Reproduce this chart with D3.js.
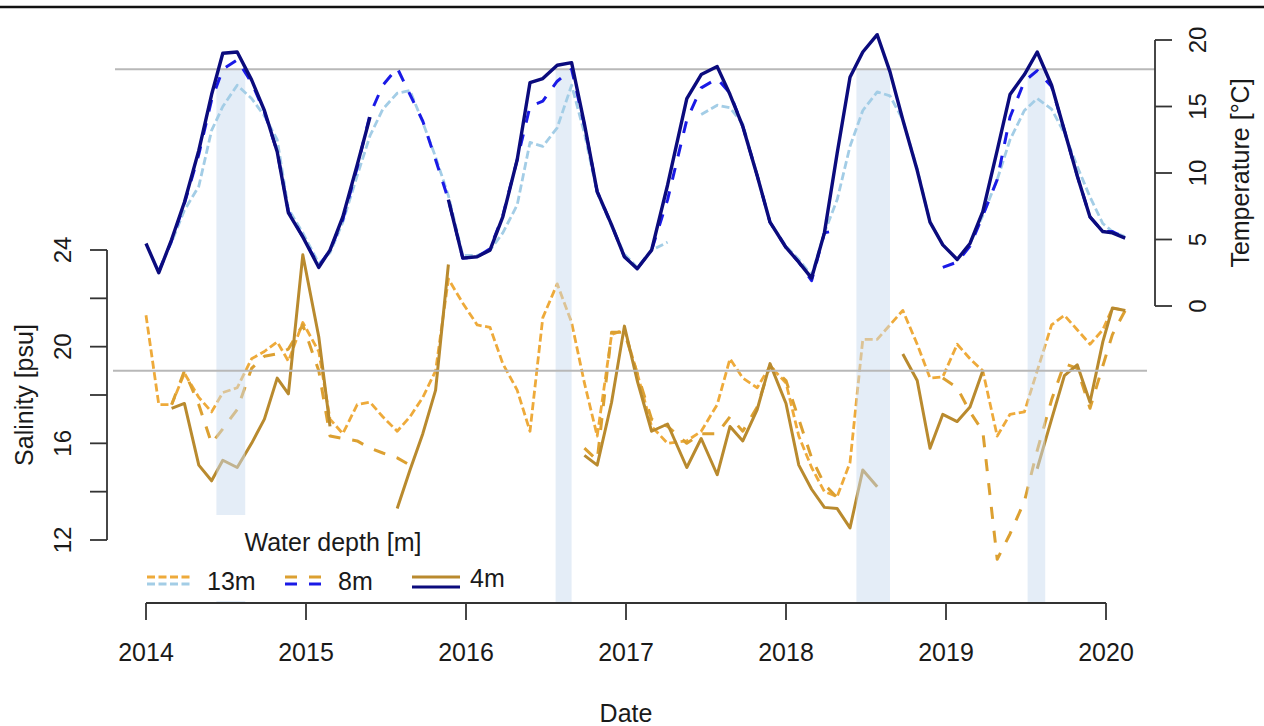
<!DOCTYPE html>
<html>
<head>
<meta charset="utf-8">
<script src="https://cdn.jsdelivr.net/npm/d3@7"></script>
<style>
body { margin: 0; background: #fff; }
svg text { font-family: "Liberation Sans", Arial, Helvetica, sans-serif; fill: #1a1a1a; }
</style>
</head>
<body>
<script>
// sampling dates (decimal years), shared by all series
var dates = [2014.00, 2014.08, 2014.16, 2014.24, 2014.33, 2014.41, 2014.48, 2014.57, 2014.66, 2014.74, 2014.82, 2014.89,
    2014.98, 2015.08, 2015.15, 2015.23, 2015.32, 2015.40, 2015.48, 2015.57, 2015.65, 2015.73, 2015.81, 2015.89,
    2015.98, 2016.07, 2016.15, 2016.23, 2016.32, 2016.40, 2016.48, 2016.57, 2016.66, 2016.74, 2016.82, 2016.91,
    2016.99, 2017.07, 2017.16, 2017.26, 2017.38, 2017.47, 2017.57, 2017.65, 2017.73, 2017.82, 2017.90,
    2018.00, 2018.08, 2018.16, 2018.24, 2018.32, 2018.40, 2018.48, 2018.57, 2018.65, 2018.73, 2018.82, 2018.90, 2018.98,
    2019.07, 2019.15, 2019.23, 2019.32, 2019.40, 2019.49, 2019.57, 2019.66, 2019.74, 2019.82, 2019.90, 2019.98, 2020.04, 2020.12];

// temperature [°C]
var temp13 = [null, 2.7, 4.8, 7.2, 9.0, 13.2, 15.0, 16.6, 15.6, 14.3, 12.5, 7.3,
    5.5, 3.2, 4.0, 6.3, 9.8, 12.8, 14.8, 16.0, 16.2, 13.8, 11.2, 8.3,
    3.8, 3.8, 4.2, 5.5, 7.6, 12.3, 12.0, 13.4, 16.6, 13.0, 8.5, 6.0,
    3.9, 2.9, 4.2, 4.8, null, 14.4, 15.1, 14.9, 13.7, 9.8, 6.3,
    4.5, 3.5, 2.3, 5.5, 8.0, 12.0, 14.7, 16.1, 15.8, 14.0, 10.3, 6.3, 4.6,
    3.5, 4.7, 6.8, 9.5, 12.5, 14.7, 15.6, 14.8, 13.0, 10.5, 8.2, 6.2, 5.6, 5.2];
var temp8 = [null, 2.6, 4.9, 7.7, 11.4, 15.5, 17.8, 18.5, 16.8, 14.6, 11.6, 7.1,
    5.2, 3.0, 4.2, 6.5, 10.4, 14.4, 16.6, 17.9, 15.9, 13.9, 11.0, 8.0,
    3.6, 3.7, 4.3, 6.8, 11.0, 15.0, 15.4, 16.9, 17.8, 13.6, 8.6, 6.1,
    3.7, 2.8, 4.2, 8.0, 14.0, 16.4, 17.1, 16.0, 13.5, 9.8, 6.3,
    4.4, 3.3, 1.9, 5.5, 5.7, null, null, null, null, null, null, null, 2.9,
    3.3, 4.5, 6.8, 9.5, 14.2, 16.9, 17.7, 16.5, 13.2, 9.8, 6.7, 5.6, 5.6, 5.1];
var temp4 = [4.7, 2.5, 5.0, 7.8, 11.7, 15.9, 19.0, 19.1, 17.0, 14.7, 11.6, 7.0,
    5.2, 2.9, 4.2, 6.7, 10.6, 14.2, null, null, null, null, null, 8.0,
    3.6, 3.7, 4.2, 6.7, 11.0, 16.8, 17.1, 18.1, 18.3, 13.7, 8.6, 6.1,
    3.7, 2.8, 4.2, 9.1, 15.6, 17.4, 18.0, 15.9, 13.5, 9.8, 6.3,
    4.4, 3.3, 2.1, 5.5, 11.5, 17.2, 19.1, 20.4, 17.6, 14.0, 10.2, 6.3, 4.6,
    3.5, 4.7, 7.1, 11.7, 15.9, 17.4, 19.1, 16.6, 13.2, 9.8, 6.7, 5.6, 5.5, 5.1];

// salinity [psu]
var sal13 = [21.3, 17.6, 17.6, 18.9, 17.9, 17.3, 18.1, 18.3, 19.5, 19.8, 20.2, 19.4,
    21.0, 19.8, 17.0, 16.4, 17.6, 17.7, 17.1, 16.5, 17.1, 17.9, 19.0, 22.8,
    21.8, 20.9, 20.8, 19.3, 18.2, 16.5, 21.2, 22.6, 21.0, 18.5, 16.3, 20.5,
    20.7, 18.9, 16.7, 16.0, 16.1, 16.5, 17.6, 19.5, 18.7, 18.3, 19.2,
    18.5, 16.3, 15.0, 14.0, 13.8, 15.2, 20.3, 20.3, 20.9, 21.5, 20.1, 18.7, 18.75,
    20.1, 19.5, 19.0, 16.3, 17.2, 17.3, 19.0, 20.9, 21.3, 20.7, 20.1, 20.7, 21.6, 21.5];
var sal8 = [null, null, 17.6, 19.0, 17.6, 16.0, 16.6, 17.4, 19.1, 19.6, 19.7, 19.9,
    20.9, 19.0, 16.3, 16.2, 16.1, 15.8, 15.6, 15.4, 15.1, null, null, null,
    null, null, null, null, null, null, null, null, null, 15.8, 15.3, 20.6,
    20.6, 18.9, 17.0, 16.7, 16.0, 16.4, 16.4, 17.1, 16.5, 17.5, 19.2,
    18.6, 17.0, 15.4, 14.3, 13.75, null, null, null, null, null, null, null, 18.7,
    18.3, 17.3, 16.5, 11.2, 12.25, 13.6, 15.7, 17.8, 19.3, 19.1, 17.45, 19.2, 20.5, 21.5];
var sal4 = [null, null, 17.45, 17.65, 15.1, 14.45, 15.3, 15.0, 16.0, 17.0, 18.7, 18.05,
    23.8, 20.4, 16.7, null, null, null, null, 13.3, 14.9, 16.4, 18.2, 23.4,
    null, null, null, null, null, null, null, null, null, 15.5, 15.1, 17.7,
    20.85, 18.6, 16.5, 16.8, 15.0, 16.2, 14.7, 16.7, 16.1, 17.4, 19.3,
    17.65, 15.1, 14.1, 13.35, 13.3, 12.5, 14.9, 14.2, null, 19.7, 18.6, 15.8, 17.2,
    16.9, 17.5, 19.0, null, null, null, 14.95, 17.0, 18.8, 19.25, 17.7, 20.2, 21.6, 21.5];

// shaded periods
var shadeStart = [2014.44, 2016.56, 2018.44, 2019.51];
var shadeEnd = [2014.62, 2016.66, 2018.65, 2019.62];

var yearTicks = [2014, 2015, 2016, 2017, 2018, 2019, 2020];
var salTicks = [12, 14, 16, 18, 20, 22, 24];
var salLabels = [12, 16, 20, 24];
var tempTicks = [0, 5, 10, 15, 20];
var tempRef = 17.8;
var salRef = 19;
var depthLabels = ["13m", "8m", "4m"];

var W = 1264, H = 726;
var svg = d3.select("body").append("svg").attr("width", W).attr("height", H);

var x = d3.scaleLinear().domain([2014, 2020]).range([146, 1106]);
var yT = d3.scaleLinear().domain([0, 20]).range([306, 40]);
var yS = d3.scaleLinear().domain([12, 24]).range([540, 250]);
var axisY = 603;

var styles = {
    "13m": { sal: "#eeaa3a", temp: "#a3cde6", dash: "8,3.5", w: 2.8 },
    "8m": { sal: "#dca031", temp: "#1a1ae6", dash: "12,12", w: 3 },
    "4m": { sal: "#b98a2e", temp: "#0b0b7d", dash: null, w: 3 }
};

// frame line at the very top
svg.append("line").attr("x1", 0).attr("x2", W).attr("y1", 7).attr("y2", 7)
    .attr("stroke", "#111").attr("stroke-width", 2.5);

function drawSeries(values, yScale, color, dash, w) {
    var pts = dates.map(function (d, i) { return [d, values[i]]; });
    var line = d3.line()
        .defined(function (p) { return p[1] != null; })
        .x(function (p) { return x(p[0]); })
        .y(function (p) { return yScale(p[1]); });
    svg.append("path").datum(pts)
        .attr("d", line)
        .attr("fill", "none")
        .attr("stroke", color)
        .attr("stroke-width", w)
        .attr("stroke-linejoin", "round")
        .attr("stroke-dasharray", dash);
}

// salinity first, the shading lies over it
drawSeries(sal13, yS, styles["13m"].sal, styles["13m"].dash, styles["13m"].w);
drawSeries(sal8, yS, styles["8m"].sal, styles["8m"].dash, styles["8m"].w);
drawSeries(sal4, yS, styles["4m"].sal, styles["4m"].dash, styles["4m"].w);

svg.selectAll(".shade").data(shadeStart).enter().append("rect")
    .attr("class", "shade")
    .attr("x", function (d) { return x(d); })
    .attr("width", function (d, i) { return x(shadeEnd[i]) - x(d); })
    .attr("y", yT(tempRef))
    .attr("height", axisY - yT(tempRef))
    .attr("fill", "#c9dcf0")
    .attr("fill-opacity", 0.5);

// legend background
svg.append("rect").attr("x", 140).attr("y", 515).attr("width", 380).attr("height", 86).attr("fill", "#fff");

// reference lines
svg.append("line").attr("x1", 115).attr("x2", 1155).attr("y1", yT(tempRef)).attr("y2", yT(tempRef))
    .attr("stroke", "#b8b8b8").attr("stroke-width", 2);
svg.append("line").attr("x1", 113).attr("x2", 1147).attr("y1", yS(salRef)).attr("y2", yS(salRef))
    .attr("stroke", "#b8b8b8").attr("stroke-width", 2);

drawSeries(temp13, yT, styles["13m"].temp, styles["13m"].dash, styles["13m"].w);
drawSeries(temp8, yT, styles["8m"].temp, styles["8m"].dash, styles["8m"].w);
drawSeries(temp4, yT, styles["4m"].temp, styles["4m"].dash, 3.4);

// axes
var axisColor = "#333";
var gx = svg.append("g");
gx.append("line").attr("x1", x(2014)).attr("x2", x(2020)).attr("y1", axisY).attr("y2", axisY)
    .attr("stroke", axisColor).attr("stroke-width", 1.8);
gx.selectAll(".tk").data(yearTicks).enter().append("line")
    .attr("x1", function (d) { return x(d); }).attr("x2", function (d) { return x(d); })
    .attr("y1", axisY).attr("y2", axisY + 17)
    .attr("stroke", axisColor).attr("stroke-width", 1.8);
gx.selectAll(".lb").data(yearTicks).enter().append("text")
    .attr("x", function (d) { return x(d); }).attr("y", 661)
    .attr("text-anchor", "middle").attr("font-size", 25)
    .text(function (d) { return d; });
svg.append("text").attr("x", (x(2014) + x(2020)) / 2).attr("y", 722)
    .attr("text-anchor", "middle").attr("font-size", 25).text("Date");

var salX = 107;
var gs = svg.append("g");
gs.append("line").attr("x1", salX).attr("x2", salX).attr("y1", yS(12)).attr("y2", yS(24))
    .attr("stroke", axisColor).attr("stroke-width", 1.8);
gs.selectAll(".tk").data(salTicks).enter().append("line")
    .attr("x1", salX - 17).attr("x2", salX)
    .attr("y1", function (d) { return yS(d); }).attr("y2", function (d) { return yS(d); })
    .attr("stroke", axisColor).attr("stroke-width", 1.8);
gs.selectAll(".lb").data(salLabels).enter().append("text")
    .attr("transform", function (d) { return "translate(62," + yS(d) + ") rotate(-90)"; })
    .attr("dy", "0.36em").attr("text-anchor", "middle").attr("font-size", 24)
    .text(function (d) { return d; });
svg.append("text").attr("transform", "translate(24," + (yS(12) + yS(24)) / 2 + ") rotate(-90)")
    .attr("dy", "0.36em").attr("text-anchor", "middle").attr("font-size", 25).text("Salinity [psu]");

var tempX = 1155;
var gt = svg.append("g");
gt.append("line").attr("x1", tempX).attr("x2", tempX).attr("y1", yT(0)).attr("y2", yT(20))
    .attr("stroke", axisColor).attr("stroke-width", 1.8);
gt.selectAll(".tk").data(tempTicks).enter().append("line")
    .attr("x1", tempX).attr("x2", tempX + 17)
    .attr("y1", function (d) { return yT(d); }).attr("y2", function (d) { return yT(d); })
    .attr("stroke", axisColor).attr("stroke-width", 1.8);
gt.selectAll(".lb").data(tempTicks).enter().append("text")
    .attr("transform", function (d) { return "translate(1197," + yT(d) + ") rotate(-90)"; })
    .attr("dy", "0.36em").attr("text-anchor", "middle").attr("font-size", 24)
    .text(function (d) { return d; });
svg.append("text").attr("transform", "translate(1240," + (yT(0) + yT(20)) / 2 + ") rotate(-90)")
    .attr("dy", "0.36em").attr("text-anchor", "middle").attr("font-size", 25).text("Temperature [°C]");

// legend
svg.append("text").attr("x", 333).attr("y", 551).attr("text-anchor", "middle")
    .attr("font-size", 25).text("Water depth [m]");
var legX = [147, 285, 412];
var legLen = [46, 37, 48];
var legTextX = [207, 338, 470];
depthLabels.forEach(function (k, i) {
    var s = styles[k];
    var g = svg.append("g");
    g.append("line").attr("x1", legX[i]).attr("x2", legX[i] + legLen[i]).attr("y1", 577).attr("y2", 577)
        .attr("stroke", s.sal).attr("stroke-width", 3).attr("stroke-dasharray", s.dash);
    g.append("line").attr("x1", legX[i]).attr("x2", legX[i] + legLen[i])
        .attr("y1", k === "4m" ? 587 : 584).attr("y2", k === "4m" ? 587 : 584)
        .attr("stroke", s.temp).attr("stroke-width", 3).attr("stroke-dasharray", s.dash);
    g.append("text").attr("x", legTextX[i]).attr("y", k === "4m" ? 587 : 590)
        .attr("font-size", 25).text(k);
});
</script>
</body>
</html>
